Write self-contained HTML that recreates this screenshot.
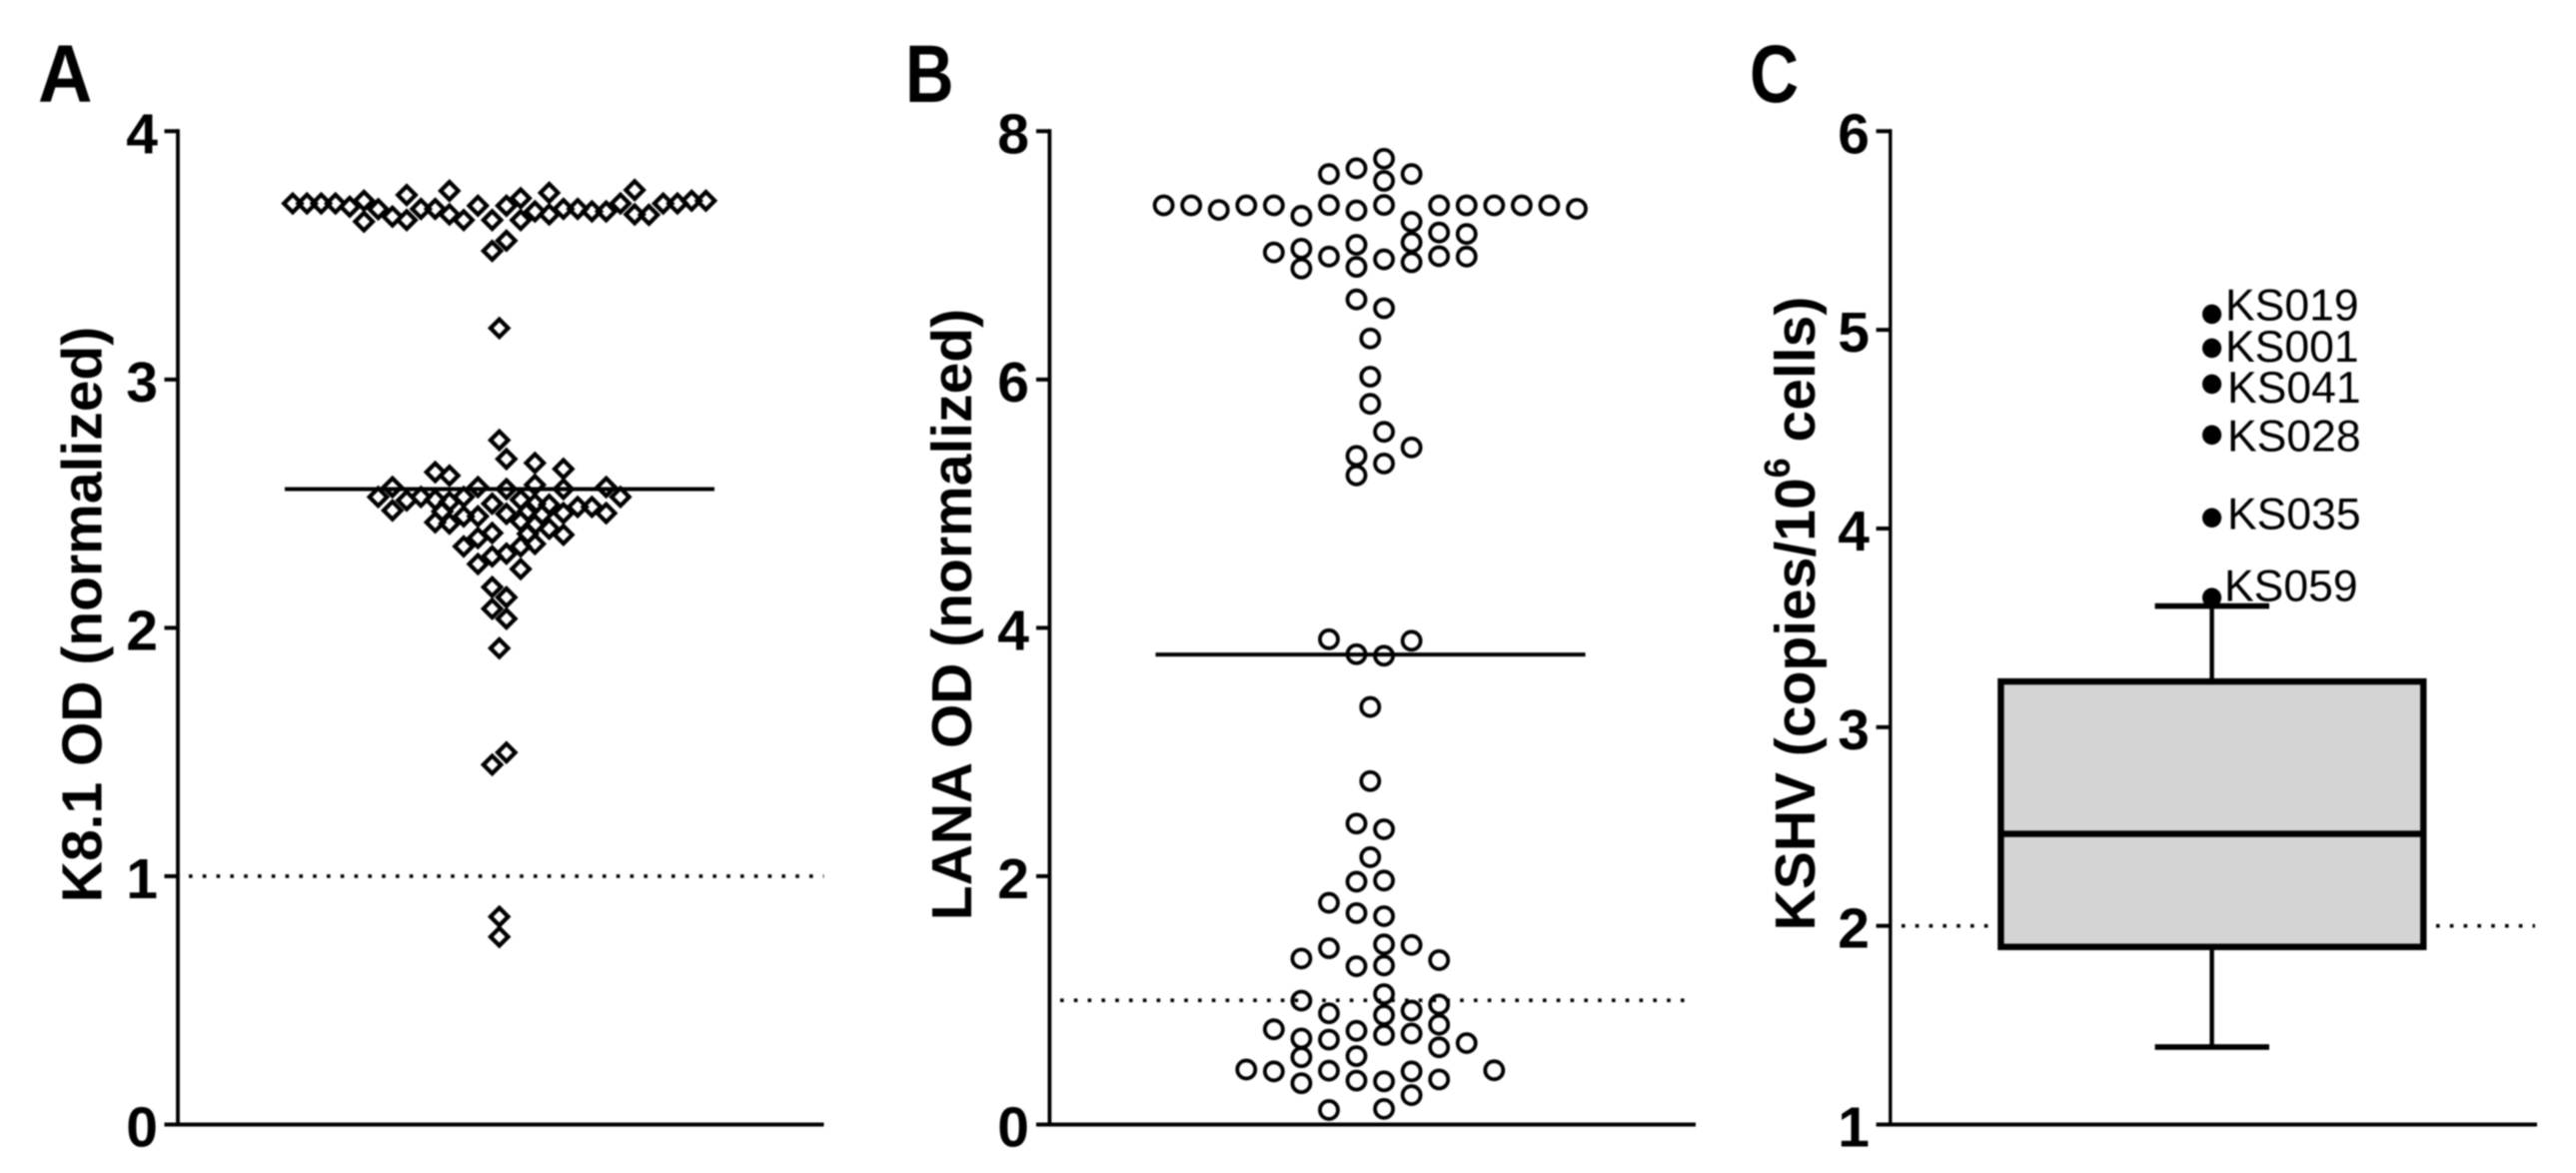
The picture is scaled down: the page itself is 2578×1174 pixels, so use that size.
<!DOCTYPE html>
<html lang="en">
<head>
<meta charset="utf-8">
<title>KSHV serology and viral load panels</title>
<style>
html,body{margin:0;padding:0;background:#fff;width:2578px;height:1174px;overflow:hidden}
svg{display:block;filter:blur(0.7px)}
text{font-family:"Liberation Sans",sans-serif;fill:#000}
.tick{font-weight:700;font-size:57px;text-anchor:end}
.panel{font-weight:700;font-size:82px}
.title{font-weight:700;font-size:57px;text-anchor:middle}
.lab{font-size:44.5px}
</style>
</head>
<body>
<svg id="figure" width="2578" height="1174" viewBox="0 0 2578 1174" xmlns="http://www.w3.org/2000/svg">
  <rect x="0" y="0" width="2578" height="1174" fill="#fff"/>
  <text class="panel" transform="translate(38 102) scale(0.92 1)">A</text>
  <text class="panel" transform="translate(906 102) scale(0.82 1)">B</text>
  <text class="panel" transform="translate(1751 102) scale(0.83 1)">C</text>
  <text class="title" transform="translate(101.5 615) rotate(-90)">K8.1 OD (normalized)</text>
  <text class="title" transform="translate(972 615) rotate(-90)">LANA OD (normalized)</text>
  <text class="title" transform="translate(1816 614) rotate(-90)">KSHV (copies/10<tspan font-size="36" dy="-25">6</tspan><tspan dy="25"> cells)</tspan></text>
</svg>
<script>
// Panel A: K8.1 OD values and beeswarm column index (half-steps from centre)
var k81Values = [3.709,3.709,3.709,3.709,3.696,3.72,3.636,3.686,3.656,3.743,3.642,3.687,3.687,3.76,3.665,3.642,3.7,3.642,3.7,3.73,3.642,3.677,3.752,3.665,3.687,3.687,3.677,3.677,3.709,3.763,3.665,3.663,3.709,3.709,3.72,3.72,3.559,3.518,3.207,
2.756,2.68,2.664,2.64,2.627,2.613,
2.567,2.567,2.559,2.576,2.559,2.567,
2.527,2.513,2.527,2.516,2.507,2.527,2.516,2.527,
2.473,2.5,2.449,2.449,2.425,2.42,2.469,
2.459,2.429,2.499,2.496,2.462,2.487,2.487,2.462,
2.416,2.399,2.375,2.382,2.362,2.328,2.379,2.328,2.338,2.456,2.469,
2.288,2.299,2.257,2.237,
2.164,2.123,2.077,2.037,1.918,1.498,1.449,0.837,0.756];
var k81Columns = [-29,-27,-25,-23,-21,-19,-19,-17,-15,-13,-13,-11,-9,-7,-7,-5,-3,-1,1,3,3,5,7,7,9,11,13,15,17,19,19,21,23,25,27,29,1,-1,0,
0,1,5,9,-9,-7,
-15,-3,1,5,9,15,
-17,-13,-11,-9,-7,-5,3,17,
-15,-1,-3,-5,-9,-7,-8,
1,3,5,7,9,11,13,15,
5,7,9,-1,-3,-5,4,3,5,6,4,
-1,1,-3,3,
-1,1,-1,1,0,1,-1,0,0];
var k81Mean = 2.559;
var k81Reference = 1;
var k81Ticks = [0,1,2,3,4];

// Panel B: LANA OD values and beeswarm column index
var lanaValues = [7.403,7.403,7.366,7.403,7.403,7.319,7.406,7.362,7.406,7.27,7.403,7.403,7.403,7.403,7.403,7.375,
7.655,7.701,7.778,7.6,7.655,7.184,7.172,7.104,7.085,7.054,7.024,6.99,6.993,6.99,6.968,6.944,6.907,6.894,
6.645,6.574,6.331,6.023,5.804,5.579,5.453,5.385,5.324,5.228,
3.908,3.896,3.788,3.776,3.363,2.766,2.424,2.378,2.153,1.956,1.965,1.786,1.703,1.678,1.42,1.451,1.447,1.337,1.324,1.275,1.281,1.05,0.998,0.967,0.896,0.918,0.881,0.804,0.767,0.755,0.721,0.733,0.693,0.684,0.656,0.622,0.542,0.551,0.443,0.428,0.434,0.428,0.437,0.333,0.354,0.348,0.363,0.237,0.117,0.126];
var lanaColumns = [-15,-13,-11,-9,-7,-5,-3,-1,1,3,5,7,9,11,13,15,
-3,-1,1,1,3,5,7,3,-1,-5,-7,-3,5,7,1,3,-1,-5,
-1,1,0,0,0,1,3,-1,1,-1,
-3,3,-1,1,0,0,-1,1,0,-1,1,-3,-1,1,-3,1,3,-5,5,-1,1,1,-5,5,-3,3,1,5,-7,-1,1,3,-5,-3,7,5,-5,-1,-9,-7,-3,3,9,-5,-1,1,5,3,-3,1];
var lanaMean = 3.785;
var lanaReference = 1;
var lanaTicks = [0,2,4,6,8];

// Panel C: KSHV box plot summary and labelled outliers
var kshvWhiskerLow = 1.39;
var kshvQ1 = 1.894;
var kshvMedian = 2.463;
var kshvQ3 = 3.23;
var kshvWhiskerHigh = 3.61;
var kshvReference = 2;
var kshvTicks = [1,2,3,4,5,6];
var outlierNames = ["KS019","KS001","KS041","KS028","KS035","KS059"];
var outlierValues = [5.079,4.908,4.727,4.471,4.054,3.652];

var svg = document.getElementById('figure');
var NS = 'http://www.w3.org/2000/svg';

function make(tag, attrs, parent) {
  var el = document.createElementNS(NS, tag);
  for (var k in attrs) el.setAttribute(k, attrs[k]);
  (parent || svg).appendChild(el);
  return el;
}
function linearY(v0, px0, v1, px1) {
  return function (v) { return px0 + (v - v0) * (px1 - px0) / (v1 - v0); };
}

function drawAxes(id, y, ticks, axisX, tickX, endX, labelX, lw) {
  var g = make('g', {});
  
  
  var top = y(ticks[ticks.length - 1]), bottom = y(ticks[0]);
  var yAxis = make('line', {x1: axisX, x2: axisX, y1: top - 2, y2: bottom, stroke: '#000', 'stroke-width': lw}, g);
  
  
  var xAxis = make('line', {x1: tickX, x2: endX, y1: bottom, y2: bottom, stroke: '#000', 'stroke-width': 4}, g);
  
  
  ticks.forEach(function (t) {
    if (t !== ticks[0]) {
      var tk = make('line', {x1: tickX, x2: axisX, y1: y(t), y2: y(t), stroke: '#000', 'stroke-width': 4}, g);
      
      
    }
    var lb = make('text', {'class': 'tick', x: labelX, y: y(t) + 22}, g);
    
    
    lb.textContent = t;
  });
}

function drawDotted(name, y, x1, x2) {
  var l = make('line', {x1: x1, x2: x2, y1: y, y2: y, stroke: '#000', 'stroke-width': 3.6, 'stroke-dasharray': '3.6 10.2'});
  
  
}

function drawMean(name, y, x1, x2) {
  var l = make('line', {x1: x1, x2: x2, y1: y, y2: y, stroke: '#000', 'stroke-width': 4});
  
  
}

/* ---------- Panel A ---------- */
var yA = linearY(0, 1125.5, 4, 131.3);
var xA = function (c) { return 499.7 + c * 7.13; };
drawDotted('reference-line-a', yA(k81Reference), 189, 824.5);
k81Values.forEach(function (v, i) {
  var cx = xA(k81Columns[i]), cy = yA(v), d = 8.8;
  var m = make('polygon', {
    points: [cx, cy - d, cx + d, cy, cx, cy + d, cx - d, cy].join(','),
    fill: 'none', stroke: '#000', 'stroke-width': 4.2
  });
  
  
});
drawMean('mean-line-a', yA(k81Mean), 285, 715);
drawAxes('panel-a', yA, k81Ticks, 178, 164.5, 824.5, 158, 3.8);

/* ---------- Panel B ---------- */
var yB = linearY(0, 1125.5, 8, 131.3);
var xB = function (c) { return 1371.3 + c * 13.78; };
drawDotted('reference-line-b', yB(lanaReference), 1061, 1695);
lanaValues.forEach(function (v, i) {
  var c = make('circle', {cx: xB(lanaColumns[i]), cy: yB(v), r: 9, fill: 'none', stroke: '#000', 'stroke-width': 3.8});
  
  
});
drawMean('mean-line-b', yB(lanaMean), 1156.5, 1586.6);
drawAxes('panel-b', yB, lanaTicks, 1050.4, 1037, 1697, 1030, 3.8);

/* ---------- Panel C ---------- */
var yC = linearY(1, 1125.5, 6, 131.3);
var boxCx = 2213.6, boxL = 2002.4, boxR = 2425.3, capL = 2156.6, capR = 2271;
drawDotted('reference-line-c-left', yC(kshvReference), 1903, 1991);
drawDotted('reference-line-c-right', yC(kshvReference), 2438, 2537);

var wh = make('line', {x1: boxCx, x2: boxCx, y1: yC(kshvWhiskerLow), y2: yC(kshvQ1), stroke: '#000', 'stroke-width': 4.4});


var wu = make('line', {x1: boxCx, x2: boxCx, y1: yC(kshvWhiskerHigh), y2: yC(kshvQ3), stroke: '#000', 'stroke-width': 4.4});


var cl = make('line', {x1: capL, x2: capR, y1: yC(kshvWhiskerLow), y2: yC(kshvWhiskerLow), stroke: '#000', 'stroke-width': 5.6});


var cu = make('line', {x1: capL, x2: capR, y1: yC(kshvWhiskerHigh), y2: yC(kshvWhiskerHigh), stroke: '#000', 'stroke-width': 5.6});


var box = make('rect', {x: boxL, y: yC(kshvQ3), width: boxR - boxL, height: yC(kshvQ1) - yC(kshvQ3), fill: '#d4d4d4', stroke: '#000', 'stroke-width': 6.4});


var med = make('line', {x1: boxL, x2: boxR, y1: yC(kshvMedian), y2: yC(kshvMedian), stroke: '#000', 'stroke-width': 6.4});



outlierValues.forEach(function (v, i) {
  var labelDx = [13.4, 13.4, 15.4, 15.4, 15.4, 12.4][i];
  var labelDy = [6.3, 13.6, 18.6, 16.3, 11.4, 3.3][i];
  var dot = make('ellipse', {cx: boxCx, cy: yC(v), rx: 9.6, ry: 9.8, fill: '#000'});
  
  
  var t = make('text', {'class': 'lab', x: boxCx + labelDx, y: yC(v) + labelDy});
  
  
  t.textContent = outlierNames[i];
});
drawAxes('panel-c', yC, kshvTicks, 1891.8, 1877.6, 2539, 1871, 3.4);
</script>
</body>
</html>
